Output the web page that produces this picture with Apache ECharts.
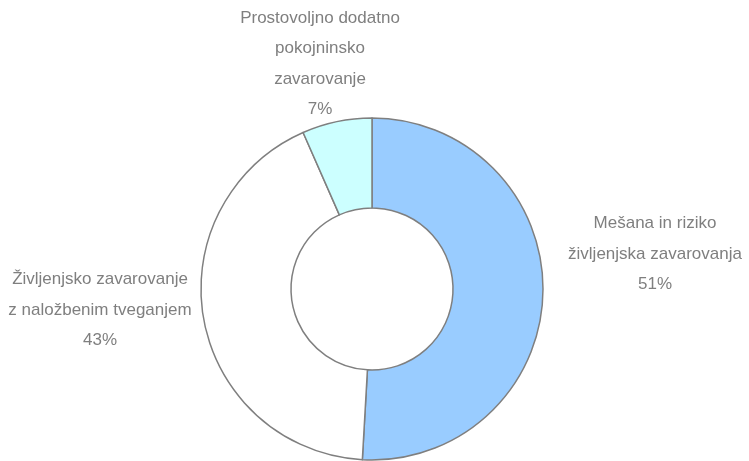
<!DOCTYPE html>
<html>
<head>
<meta charset="utf-8">
<script src="https://cdn.jsdelivr.net/npm/echarts@6/dist/echarts.min.js"></script>
<style>
  html, body { margin: 0; padding: 0; background: #fff; }
  #chart { width: 749px; height: 461px; }
</style>
</head>
<body>
<div id="chart"></div>
<script>
// kategorije in deleži (odčitano s slike)
const categories = [
  'Mešana in riziko\nživljenjska zavarovanja',
  'Življenjsko zavarovanje\nz naložbenim tveganjem',
  'Prostovoljno dodatno\npokojninsko\nzavarovanje'
];
const shares = [50.9, 42.5, 6.6];
const colors = ['#99ccff', '#ffffff', '#ccffff'];

// kje stojijo napisi (središče besedila)
const labelPos = [
  [655, 254],
  [100, 310],
  [320, 64]
];

const myChart = echarts.init(document.getElementById('chart'));

const options = {
  animation: false,
  series: [
    {
      type: 'pie',
      center: [372, 289],
      radius: [81, 171],
      startAngle: 90,
      clockwise: true,
      data: categories.map((name, i) => ({
        name: name,
        value: shares[i],
        itemStyle: { color: colors[i] }
      })),
      itemStyle: {
        borderColor: '#7f7f7f',
        borderWidth: 1.5
      },
      label: {
        show: true,
        position: 'outside',
        color: '#7f7f7f',
        fontFamily: '"Liberation Sans Narrow", "Liberation Sans", Arial, sans-serif',
        fontSize: 17,
        lineHeight: 30.5,
        align: 'center',
        overflow: 'none',
        formatter: function (p) {
          return p.name + '\n' + Math.round(p.percent) + '%';
        }
      },
      labelLine: { show: false },
      labelLayout: function (params) {
        const pos = labelPos[params.dataIndex];
        return {
          x: pos[0],
          y: pos[1],
          width: 260,
          align: 'center',
          verticalAlign: 'middle'
        };
      },
      emphasis: { disabled: true }
    }
  ]
};

myChart.setOption(options);
</script>
</body>
</html>
